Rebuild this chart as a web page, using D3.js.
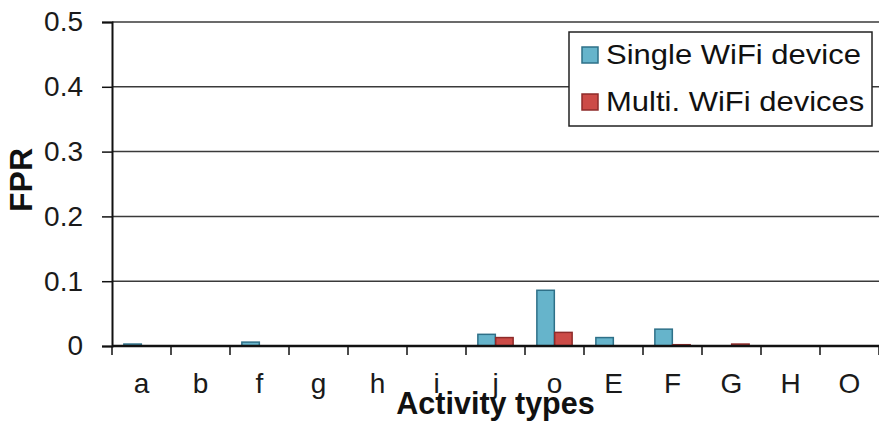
<!DOCTYPE html>
<html>
<head>
<meta charset="utf-8">
<script src="https://cdn.jsdelivr.net/npm/d3@7"></script>
<style>
  html, body { margin: 0; padding: 0; background: #fff; }
  svg { display: block; font-family: "Liberation Sans", Arial, Helvetica, sans-serif; }
</style>
</head>
<body>
<svg id="chart" width="879" height="435"></svg>
<script>
// Activity categories along the x axis
const categories = ["a", "b", "f", "g", "h", "i", "j", "o", "E", "F", "G", "H", "O"];
// False positive rate per activity
const singleDevice = [0.003, 0, 0.006, 0, 0, 0, 0.018, 0.086, 0.013, 0.026, 0, 0, 0];
const multiDevices = [0, 0, 0, 0, 0, 0, 0.013, 0.021, 0, 0.002, 0.003, 0, 0];
const seriesNames = ["Single WiFi device", "Multi. WiFi devices"];
const yTicks = [0, 0.1, 0.2, 0.3, 0.4, 0.5];

const fills = ["#66b4cb", "#cc4b47"];
const strokes = ["#2e7088", "#8e2b2a"];

const svg = d3.select("#chart");
const plotLeft = 112, plotRight = 879, plotTop = 22, plotBottom = 346;

const x = d3.scaleBand().domain(categories).range([plotLeft, plotRight]).padding(0);
const groupW = x.bandwidth() * 0.61;
const x1 = d3.scaleBand().domain(seriesNames)
  .range([(x.bandwidth() - groupW) / 2, (x.bandwidth() + groupW) / 2]).padding(0.02);
const y = d3.scaleLinear().domain([0, 0.5]).range([plotBottom, plotTop]);

// horizontal gridlines
svg.append("g").selectAll("line")
  .data(yTicks.filter(d => d > 0))
  .join("line")
  .attr("x1", plotLeft).attr("x2", plotRight)
  .attr("y1", d => y(d)).attr("y2", d => y(d))
  .attr("stroke", "#3a3a3a").attr("stroke-width", 1.5);

// bars
const rows = categories.map((c, i) => ({ cat: c, vals: [singleDevice[i], multiDevices[i]] }));
const groups = svg.append("g").selectAll("g")
  .data(rows).join("g")
  .attr("transform", d => `translate(${x(d.cat)},0)`);
groups.selectAll("rect")
  .data(d => d.vals.map((v, k) => ({ v, k })).filter(e => e.v > 0))
  .join("rect")
  .attr("x", e => x1(seriesNames[e.k]))
  .attr("width", x1.bandwidth())
  .attr("y", e => y(e.v))
  .attr("height", e => y(0) - y(e.v))
  .attr("fill", e => fills[e.k])
  .attr("stroke", e => strokes[e.k])
  .attr("stroke-width", 1.5);

// y axis
const yAxis = svg.append("g")
  .attr("transform", `translate(${plotLeft},0)`)
  .call(d3.axisLeft(y).tickValues(yTicks).tickFormat(d => d === 0 ? "0" : d3.format(".1f")(d))
    .tickSizeOuter(0).tickSize(10).tickPadding(19));
yAxis.select(".domain").attr("stroke", "#111").attr("stroke-width", 2);
yAxis.selectAll(".tick line").attr("stroke", "#111").attr("stroke-width", 1.5);
yAxis.selectAll(".tick text").attr("font-size", 28).attr("fill", "#1a1a1a")
  .attr("font-family", "Liberation Sans, Arial, sans-serif");

// x axis with ticks on category boundaries
const xAxisG = svg.append("g").attr("transform", `translate(0,${plotBottom})`);
xAxisG.append("line").attr("x1", plotLeft).attr("x2", plotRight)
  .attr("stroke", "#111").attr("stroke-width", 2.5);
const bounds = categories.map(c => x(c)).concat([plotRight]);
xAxisG.selectAll("line.tk").data(bounds).join("line").attr("class", "tk")
  .attr("x1", d => d).attr("x2", d => d).attr("y1", 0).attr("y2", 9)
  .attr("stroke", "#111").attr("stroke-width", 1.5);
xAxisG.selectAll("text").data(categories).join("text")
  .attr("x", d => x(d) + x.bandwidth() / 2)
  .attr("y", 47)
  .attr("text-anchor", "middle")
  .attr("font-size", 28)
  .attr("fill", "#1a1a1a")
  .text(d => d);

// axis titles
svg.append("text")
  .attr("x", (plotLeft + plotRight) / 2).attr("y", 414)
  .attr("text-anchor", "middle")
  .attr("font-size", 30.5).attr("font-weight", "bold").attr("fill", "#111")
  .text("Activity types");
svg.append("text")
  .attr("transform", "translate(32,180) rotate(-90)")
  .attr("text-anchor", "middle")
  .attr("font-size", 32).attr("font-weight", "bold").attr("fill", "#111")
  .text("FPR");

// legend
const legend = svg.append("g");
legend.append("rect")
  .attr("x", 569).attr("y", 32).attr("width", 303).attr("height", 94)
  .attr("fill", "#fff").attr("stroke", "#222").attr("stroke-width", 1.5);
const legendRows = [{ y: 47 }, { y: 94 }];
seriesNames.forEach((name, k) => {
  const ly = legendRows[k].y;
  legend.append("rect")
    .attr("x", 582).attr("y", ly).attr("width", 16).attr("height", 16)
    .attr("fill", fills[k]).attr("stroke", strokes[k]).attr("stroke-width", 1.5);
  legend.append("text")
    .attr("transform", `translate(606,${ly + 17}) scale(1,0.9)`)
    .attr("font-size", 31).attr("fill", "#111")
    .text(name);
});
</script>
</body>
</html>
